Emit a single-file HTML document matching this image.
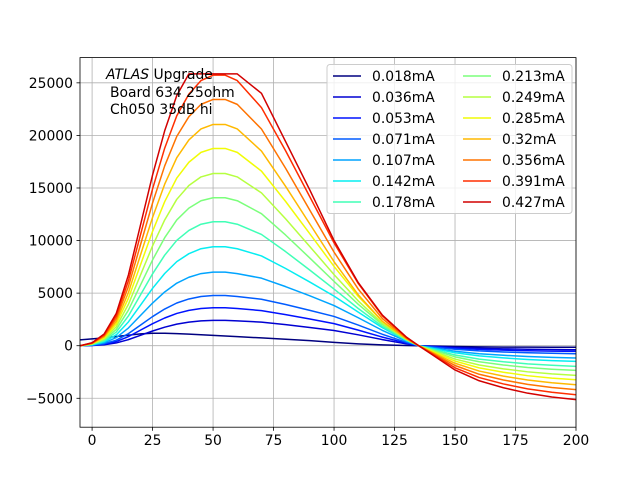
<!DOCTYPE html>
<html><head><meta charset="utf-8"><style>
body{margin:0;background:#fff;}
svg text{font-family:"DejaVu Sans","Liberation Sans",sans-serif;font-size:13.9px;fill:#000;}
</style></head><body>
<svg id="chart" width="640" height="480" xmlns="http://www.w3.org/2000/svg">
<rect x="0" y="0" width="640" height="480" fill="#fff"/>
<defs><clipPath id="plotclip"><rect x="80" y="57.6" width="496" height="369.6"/></clipPath></defs>
<g id="grid"></g>
<g id="series" clip-path="url(#plotclip)"></g>
<rect x="80" y="57.6" width="496" height="369.6" fill="none" stroke="#000" stroke-width="0.8"/>
<g id="axes"></g>
<g>
<text x="106" y="79"><tspan font-style="italic">ATLAS</tspan> Upgrade</text>
<text x="110" y="97">Board 634 25ohm</text>
<text x="110" y="114">Ch050 35dB hi</text>
</g>
<g id="legend"></g>
</svg>
<script>
const xs = [-5,0,5,10,15,20,25,30,35,40,45,50,55,60,70,80,90,100,110,120,130,135,140,150,160,170,180,190,200];
const labels = ["0.018mA","0.036mA","0.053mA","0.071mA","0.107mA","0.142mA","0.178mA","0.213mA","0.249mA","0.285mA","0.32mA","0.356mA","0.391mA","0.427mA"];
const colors = ["#000080","#0000d2","#0012ff","#005bff","#00a4ff","#06edf1","#40ffb6","#7bff7b","#b6ff40","#f1fc06","#ffb900","#ff7300","#ff2e00","#d20000"];
const s018 = [550,650,750,880,1000,1120,1180,1180,1150,1100,1040,980,920,860,740,620,480,320,180,80,20,0,-30,-80,-110,-130,-140,-150,-150];
const s036 = [0,24,96,265,578,988,1398,1759,2049,2241,2362,2410,2410,2362,2241,2000,1735,1446,1036,578,169,0,-57,-171,-247,-296,-334,-361,-380];
const s053 = [0,36,144,397,866,1480,2094,2635,3069,3357,3538,3610,3610,3538,3339,2958,2538,2101,1480,819,238,0,-81,-243,-351,-421,-475,-513,-540];
const s071 = [0,48,191,526,1147,1960,2772,3489,4063,4445,4684,4780,4780,4684,4422,3917,3360,2782,1960,1085,315,0,-114,-342,-494,-593,-669,-722,-760];
const s107 = [0,70,280,770,1680,2870,4060,5110,5950,6510,6860,7000,7000,6860,6423,5618,4743,3815,2660,1453,420,0,-176,-527,-761,-913,-1030,-1112,-1170];
const s142 = [0,94,376,1035,2258,3858,5458,6869,7999,8751,9222,9410,9410,9222,8540,7345,6055,4714,3199,1708,489,0,-224,-671,-969,-1162,-1311,-1416,-1490];
const s178 = [0,118,472,1297,2830,4834,6838,8607,10022,10965,11554,11790,11790,11554,10582,8943,7186,5388,3537,1833,519,0,-294,-882,-1274,-1529,-1725,-1862,-1960];
const s213 = [0,141,563,1548,3377,5769,8161,10271,11960,13085,13789,14070,14070,13789,12557,10517,8336,6120,3940,2005,563,0,-353,-1058,-1528,-1833,-2068,-2233,-2350];
const s249 = [0,164,655,1802,3931,6716,9500,11957,13923,15233,16052,16380,16380,16052,14537,12064,9427,6765,4259,2121,590,0,-423,-1269,-1833,-2200,-2482,-2679,-2820];
const s285 = [0,188,750,2064,4502,7692,10881,13695,15946,17447,18385,18760,18760,18385,16603,13714,10637,7542,4690,2307,638,0,-486,-1458,-2106,-2527,-2851,-3078,-3240];
const s320 = [0,210,842,2314,5050,8626,12203,15359,17884,19567,20619,21040,21040,20619,18515,15149,11572,7995,4839,2314,631,0,-557,-1670,-2412,-2894,-3265,-3525,-3710];
const s356 = [0,234,937,2576,5621,9602,13584,17097,19907,21781,22952,23420,23420,22952,20610,16862,12881,8900,5387,2576,703,0,-627,-1881,-2717,-3260,-3678,-3971,-4180];
const s391 = [0,257,1029,2830,6175,10549,14923,18783,21871,23929,25215,25730,25730,25215,22642,18526,14152,9777,5918,2830,772,0,-699,-2097,-3029,-3635,-4101,-4427,-4660];
const s427 = [0,280,1120,3080,6720,11480,16240,20440,23800,25850,25850,25850,25850,25850,24000,19400,14800,10000,6000,2900,800,0,-770,-2309,-3335,-4001,-4514,-4874,-5130];
const seriesList = [s018,s036,s053,s071,s107,s142,s178,s213,s249,s285,s320,s356,s391,s427];
const xTicks = [0,25,50,75,100,125,150,175,200];
const yTicks = [-5000,0,5000,10000,15000,20000,25000];

const NS = "http://www.w3.org/2000/svg";
const X0=80, X1=576, Y0=57.6, Y1=427.2;
const xmin=-5, xmax=200, ymin=-7750, ymax=27400;
function sx(v){return X0+(v-xmin)/(xmax-xmin)*(X1-X0);}
function sy(v){return Y1-(v-ymin)/(ymax-ymin)*(Y1-Y0);}
function mk(tag,attrs,parent){const e=document.createElementNS(NS,tag);for(const k in attrs)e.setAttribute(k,attrs[k]);parent.appendChild(e);return e;}
const grid=document.getElementById('grid'), axes=document.getElementById('axes');
xTicks.forEach(t=>{
  const gl=mk('line',{x1:sx(t),x2:sx(t),y1:Y0,y2:Y1,stroke:'#b0b0b0','stroke-width':0.8},grid);
  
  
  const tk=mk('line',{x1:sx(t),x2:sx(t),y1:Y1,y2:Y1+3.5,stroke:'#000','stroke-width':0.8},axes);
  
  
  const tx=mk('text',{x:sx(t),y:Y1+18,'text-anchor':'middle'},axes);
  tx.textContent=t;
  
  
});
yTicks.forEach(t=>{
  const gl=mk('line',{x1:X0,x2:X1,y1:sy(t),y2:sy(t),stroke:'#b0b0b0','stroke-width':0.8},grid);
  
  
  const tk=mk('line',{x1:X0-3.5,x2:X0,y1:sy(t),y2:sy(t),stroke:'#000','stroke-width':0.8},axes);
  
  
  const tx=mk('text',{x:X0-7,y:sy(t)+5,'text-anchor':'end'},axes);
  tx.textContent=(t<0?'\u2212'+Math.abs(t):t);
  
  
});
const sg=document.getElementById('series');
seriesList.forEach((arr,i)=>{
  const d=arr.map((v,j)=>(j?'L':'M')+sx(xs[j]).toFixed(2)+','+sy(v).toFixed(2)).join(' ');
  const p=mk('path',{d:d,fill:'none',stroke:colors[i],'stroke-width':1.5,'stroke-linejoin':'round'},sg);
  
  
});
const lg=document.getElementById('legend');
const box=mk('rect',{x:327,y:64.5,width:245,height:149,rx:3,fill:'#fff','fill-opacity':0.8,stroke:'#ccc','stroke-width':1},lg);


labels.forEach((lab,i)=>{
  const col=Math.floor(i/7), row=i%7;
  const lx=333+col*130, ly=76+row*21;
  const g=mk('g',{},lg);
  
  
  mk('line',{x1:lx,x2:lx+28,y1:ly,y2:ly,stroke:colors[i],'stroke-width':1.5},g);
  const t=mk('text',{x:lx+39,y:ly+5},g);
  t.textContent=lab;
});
</script>
</body></html>
